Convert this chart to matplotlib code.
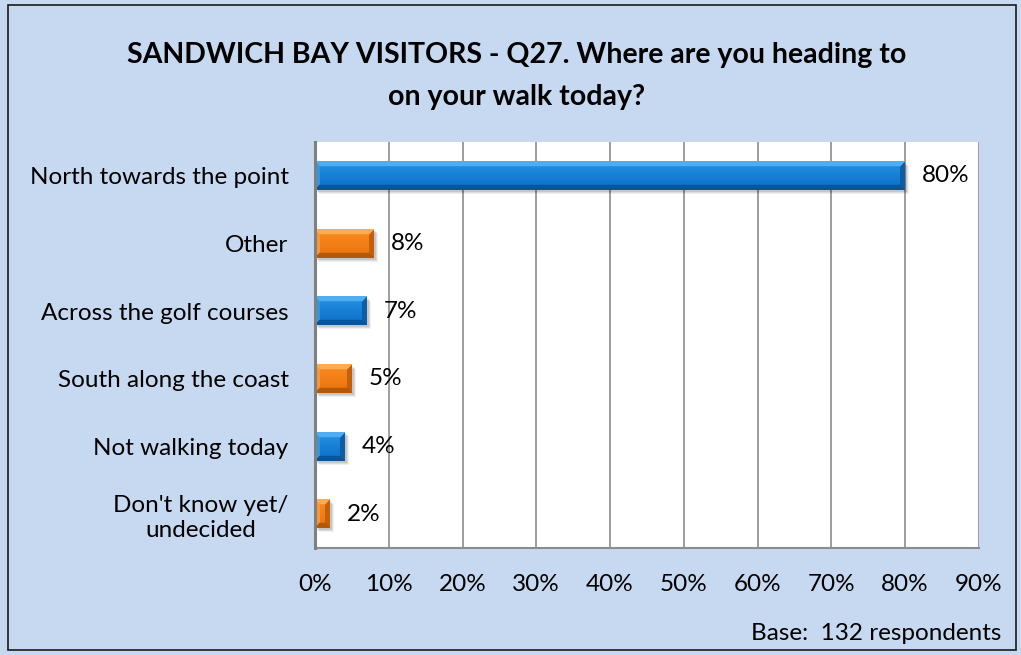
import numpy as np
import matplotlib
matplotlib.use("Agg")
import matplotlib.pyplot as plt
from matplotlib.patches import Rectangle

plt.rcParams['font.family'] = ['Lato', 'DejaVu Sans']

categories = ["North towards the point", "Other", "Across the golf courses",
              "South along the coast", "Not walking today", "Don't know yet/\nundecided"]
values = [80, 8, 7, 5, 4, 2]
series_colour = ["blue", "orange", "blue", "orange", "blue", "orange"]
x_ticks = [0, 10, 20, 30, 40, 50, 60, 70, 80, 90]
x_tick_labels = [f"{t}%" for t in x_ticks]
title_lines = ["SANDWICH BAY VISITORS - Q27. Where are you heading to", "on your walk today?"]
footnote = "Base:  132 respondents"

# bevel palettes: centre-top, centre-bottom, top facet, bottom facet, left facet, right facet
palettes = {
    "blue": dict(ct="#2592e4", cb="#0b6ec8", top="#50aef0", bot="#0c5596",
                 left="#3596e0", right="#0d5da8"),
    "orange": dict(ct="#fb8c22", cb="#ea720c", top="#ffab55", bot="#b35a0a",
                   left="#f89638", right="#c55f0a"),
}

def rgb(h):
    h = h.lstrip('#')
    return np.array([int(h[i:i + 2], 16) for i in (0, 2, 4)], dtype=float) / 255

W, H = 1021, 655
FS = 17.5
fig = plt.figure(figsize=(W / 100, H / 100), dpi=100)
fig.patch.set_facecolor("#c6d9f1")
fig.patches.append(Rectangle((8 / W, 1 - 650 / H), 1008 / W, 645 / H,
                             transform=fig.transFigure, fill=False,
                             edgecolor="#1a1a1a", linewidth=1.2, zorder=10))

ax = fig.add_axes([315 / W, 1 - 548 / H, (978.75 - 315) / W, (548 - 142) / H])
ax.set_facecolor("white")
ax.set_xlim(0, 90)
n = len(categories)
ax.set_ylim(n - 0.5, -0.5)

for t in x_ticks[1:]:
    ax.axvline(t, color="#8c8c8c", linewidth=1.2, zorder=1)
for s in ["top", "right"]:
    ax.spines[s].set_visible(False)
ax.spines["left"].set_color("#7f7f7f")
ax.spines["left"].set_linewidth(2.2)
ax.spines["bottom"].set_color("#8c8c8c")
ax.spines["bottom"].set_linewidth(1.5)
ax.spines["left"].set_zorder(6)

ax.set_xticks(x_ticks)
ax.set_xticklabels(x_tick_labels, fontsize=FS)
ax.set_yticks(range(n))
ax.set_yticklabels(categories, fontsize=FS)
for lab in ax.get_yticklabels():
    lab.set_multialignment("center")
ax.tick_params(axis="both", length=0)
ax.tick_params(axis="x", pad=19)
ax.tick_params(axis="y", pad=19)

bar_h = 0.42
bars = ax.barh(range(n), values, height=bar_h, color="none", zorder=3)

fig.canvas.draw()
px_per_x = ax.bbox.width / 90
px_per_y = ax.bbox.height / n

for i, (rect, v, c) in enumerate(zip(bars, values, series_colour)):
    p = palettes[c]
    wpx = max(int(round(v * px_per_x)), 2)
    hpx = int(round(bar_h * px_per_y))
    # soft drop shadow
    for k, a in enumerate([0.10, 0.08, 0.06]):
        off = (k + 2)
        ax.add_patch(Rectangle((off / px_per_x, i - bar_h / 2 + off / px_per_y),
                               v, bar_h, facecolor="black", alpha=a,
                               edgecolor="none", zorder=2))
    img = np.zeros((hpx, wpx, 3))
    b = 5
    for r in range(hpx):
        frac = r / max(hpx - 1, 1)
        centre = rgb(p["ct"]) * (1 - frac) + rgb(p["cb"]) * frac
        for col in range(wpx):
            dt, db, dl, dr = r, hpx - 1 - r, col, wpx - 1 - col
            m = min(dt, db, dl, dr)
            if m >= b:
                img[r, col] = centre
            elif m == dt:
                img[r, col] = rgb(p["top"])
            elif m == db:
                img[r, col] = rgb(p["bot"])
            elif m == dr:
                img[r, col] = rgb(p["right"])
            else:
                img[r, col] = rgb(p["left"])
    ax.imshow(img, extent=(0, v, i + bar_h / 2, i - bar_h / 2), aspect="auto",
              interpolation="bilinear", zorder=4)
    ax.text(v + 17 / px_per_x, i, f"{v}%", va="center", ha="left",
            fontsize=FS, zorder=5)

ax.set_xlim(0, 90)
ax.set_ylim(n - 0.5, -0.5)

fig.text(517 / W, 1 - 55 / H, title_lines[0], ha="center", va="center",
         fontsize=20.5, fontweight="bold")
fig.text(517 / W, 1 - 97 / H, title_lines[1], ha="center", va="center",
         fontsize=20.5, fontweight="bold")
fig.text(1001 / W, 1 - 633 / H, footnote, ha="right", va="center", fontsize=FS)

fig.savefig("out.png", dpi=100, facecolor=fig.get_facecolor())
